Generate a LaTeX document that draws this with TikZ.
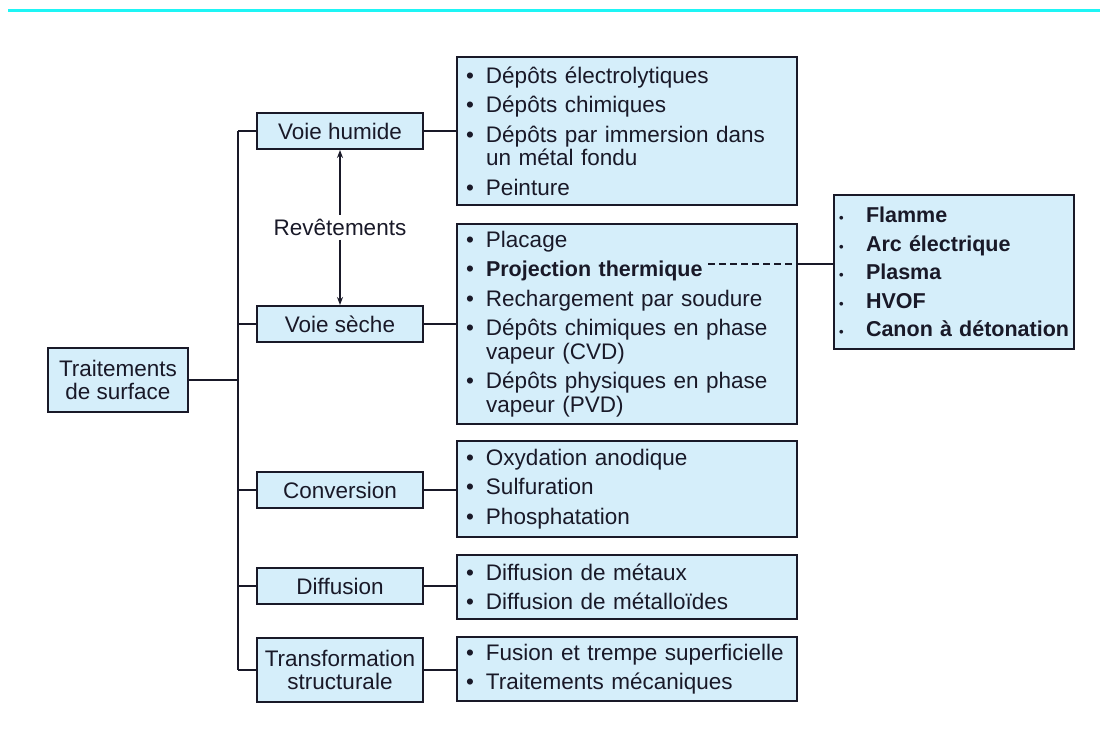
\documentclass[tikz,border=0pt]{standalone}
\usepackage{fontspec}
\setmainfont{Liberation Sans}
\usetikzlibrary{arrows.meta}
\definecolor{boxfill}{RGB}{213,238,250}
\definecolor{ink}{RGB}{25,25,40}
\definecolor{topline}{RGB}{30,245,245}
% first item (no gap before), following items (gap before)
\newcommand{\fitm}[1]{\noindent\hangindent=29pt\hangafter=1\hbox to 29pt{\hskip 9pt\textbullet\hfil}#1\par}
\newcommand{\itm}[1]{\vskip 6pt\fitm{#1}}
\newcommand{\titm}[1]{\noindent\hbox to 32pt{\hskip 5pt{\fontsize{13}{13}\selectfont\textbullet}\hfil}#1\par}
\newcommand{\lift}[1]{\vskip #1pt}
\begin{document}
\begin{tikzpicture}[x=1pt,y=-1pt,
  conn/.style={draw=ink, line width=2pt},
  lvl/.style={draw=ink, line width=2pt, fill=boxfill, text=ink, minimum width=166pt, minimum height=36pt, inner sep=0pt, align=center, font=\fontsize{22.5}{23}\selectfont},
  listbox/.style={draw=ink, line width=2pt, fill=boxfill, text=ink, inner sep=0pt, text width=340pt, align=left, font=\fontsize{22.5}{23.5}\selectfont\setlength\parskip{0pt}},
  thbox/.style={draw=ink, line width=2pt, fill=boxfill, text=ink, inner sep=0pt, text width=240pt, align=left, font=\fontsize{21.5}{28.5}\selectfont\bfseries\setlength\parskip{0pt}},
  tip/.style={-{Stealth[length=8pt,width=6pt]}}
]
\useasboundingbox (0,0) rectangle (1100,736);
\draw[topline, line width=3pt] (8,10.5) -- (1100,10.5);

% level 0
\node[lvl, minimum width=140pt, minimum height=64pt] (root) at (118,380) {Traitements\\de surface};

% level 1
\node[lvl] (hum) at (340,131) {Voie humide};
\node[lvl] (sec) at (340,324) {Voie sèche};
\node[lvl] (con) at (340,490) {Conversion};
\node[lvl] (dif) at (340,586) {Diffusion};
\node[lvl, minimum height=64pt] (tra) at (340,670) {Transformation\\structurale};

% level 2
\node[listbox, minimum height=148pt] (lhum) at (627,131) {\fitm{Dépôts électrolytiques}\itm{Dépôts chimiques}\itm{Dépôts par immersion dans un métal fondu}\itm{Peinture}\lift{12}};
\node[listbox, minimum height=200pt] (lsec) at (627,324) {\fitm{Placage}\itm{{\fontsize{21.5}{23.5}\selectfont\bfseries Projection thermique}}\itm{Rechargement par soudure}\itm{Dépôts chimiques en phase vapeur (CVD)}\itm{Dépôts physiques en phase vapeur (PVD)}\lift{8}};
\node[listbox, minimum height=96pt] (lcon) at (627,489) {\fitm{Oxydation anodique}\itm{Sulfuration}\itm{Phosphatation}\lift{7}};
\node[listbox, minimum height=64pt] (ldif) at (627,587) {\fitm{Diffusion de métaux}\itm{Diffusion de métalloïdes}\lift{11}};
\node[listbox, minimum height=64pt] (ltra) at (627,669) {\fitm{Fusion et trempe superficielle}\itm{Traitements mécaniques}\lift{11}};

\node[thbox, minimum height=154pt] (th) at (954,272) {\titm{Flamme}\titm{Arc électrique}\titm{Plasma}\titm{HVOF}\titm{Canon à détonation}\lift{15}};

% trunk
\coordinate (tTop) at (238,131);
\coordinate (tBot) at (238,670);
\draw[conn] (tTop) -- (tBot);
\draw[conn] (root.east) -- (root.east -| tTop);
\foreach \n in {hum,sec,con,dif,tra} {
  \draw[conn] (\n.west -| tTop) -- (\n.west);
}
\draw[conn] (hum.east) -- (lhum.west |- hum.east);
\draw[conn] (sec.east) -- (lsec.west |- sec.east);
\draw[conn] (con.east) -- (lcon.west |- con.east);
\draw[conn] (dif.east) -- (ldif.west |- dif.east);
\draw[conn] (tra.east) -- (ltra.west |- tra.east);

% revetements
\node[text=ink, inner xsep=2pt, inner ysep=4pt, font=\fontsize{22.5}{23}\selectfont] (rev) at (340,227) {Revêtements};
\draw[conn, line width=1.6pt, tip] (rev.north) -- (hum.south);
\draw[conn, line width=1.6pt, tip] (rev.south) -- (sec.north);

% projection thermique link
\coordinate (pt) at (708,264);
\draw[conn, dash pattern=on 7pt off 4pt] (pt) -- (pt -| lsec.east);
\draw[conn] (pt -| lsec.east) -- (pt -| th.west);
\end{tikzpicture}
\end{document}
